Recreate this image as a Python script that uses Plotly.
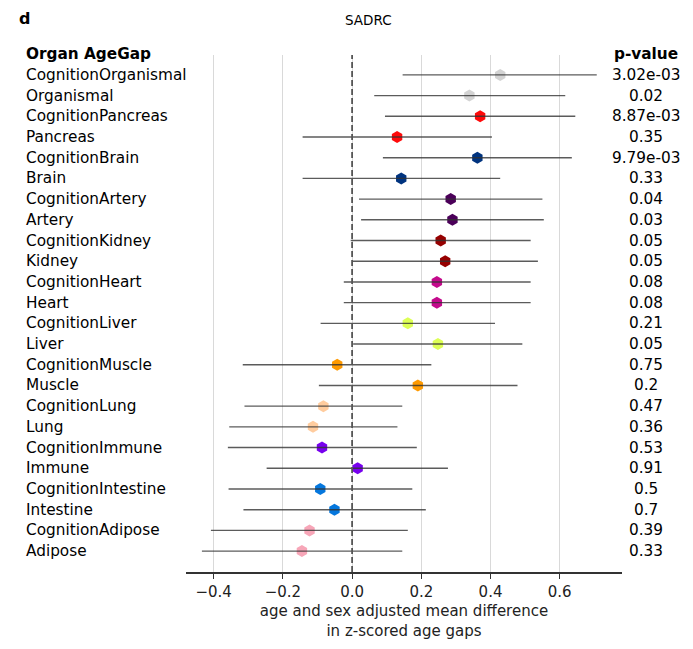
import plotly.graph_objects as go

organs = ["CognitionOrganismal", "Organismal", "CognitionPancreas", "Pancreas",
          "CognitionBrain", "Brain", "CognitionArtery", "Artery",
          "CognitionKidney", "Kidney", "CognitionHeart", "Heart",
          "CognitionLiver", "Liver", "CognitionMuscle", "Muscle",
          "CognitionLung", "Lung", "CognitionImmune", "Immune",
          "CognitionIntestine", "Intestine", "CognitionAdipose", "Adipose"]
means = [0.428, 0.339, 0.370, 0.130, 0.362, 0.142, 0.285, 0.290, 0.256, 0.269,
         0.245, 0.245, 0.161, 0.248, -0.043, 0.190, -0.083, -0.113, -0.087, 0.016,
         -0.092, -0.051, -0.123, -0.145]
ci_low = [0.146, 0.064, 0.095, -0.143, 0.089, -0.143, 0.020, 0.026, -0.004, 0.001,
          -0.024, -0.024, -0.091, 0.003, -0.316, -0.096, -0.311, -0.355, -0.359, -0.247,
          -0.357, -0.314, -0.408, -0.434]
ci_high = [0.707, 0.616, 0.645, 0.404, 0.635, 0.428, 0.550, 0.554, 0.516, 0.537,
           0.516, 0.516, 0.413, 0.492, 0.229, 0.478, 0.145, 0.131, 0.187, 0.277,
           0.174, 0.213, 0.161, 0.145]
pvalues = ["3.02e-03", "0.02", "8.87e-03", "0.35", "9.79e-03", "0.33", "0.04", "0.03",
           "0.05", "0.05", "0.08", "0.08", "0.21", "0.05", "0.75", "0.2",
           "0.47", "0.36", "0.53", "0.91", "0.5", "0.7", "0.39", "0.33"]
colors = ["#d3d3d3", "#d3d3d3", "#ff0a0a", "#ff0a0a", "#00337f", "#00337f",
          "#4b0059", "#4b0059", "#960000", "#960000", "#c40a8c", "#c40a8c",
          "#ddff55", "#ddff55", "#ff9a00", "#ff9a00", "#ffcc9e", "#ffcc9e",
          "#7700ee", "#7700ee", "#0577dd", "#0577dd", "#f7a6b8", "#f7a6b8"]
xtick_vals = [-0.4, -0.2, 0.0, 0.2, 0.4, 0.6]
xtick_text = ["\u22120.4", "\u22120.2", "0.0", "0.2", "0.4", "0.6"]

FONT = "DejaVu Sans"
OFF = 8  # default page body margin
W, H = 693 - OFF, 649 - OFF
# target page-pixel positions of the plot area
PL, PR, PT, PB = 186, 622, 55, 574
L, T = PL - OFF, PT - OFF
R, B = W - (PR - OFF), H - (PB - OFF)
PW = PR - PL
PH = PB - PT

def px_x(px):  # page px -> paper x
    return (px - PL) / PW

def px_y(py):  # page px -> paper y
    return 1 - (py - PT) / PH

fig = go.Figure()

fig.add_trace(go.Scatter(
    x=means, y=organs, mode="markers",
    marker=dict(symbol="hexagon", size=12, color=colors, line=dict(width=0)),
    showlegend=False, hoverinfo="skip"))

fig.add_trace(go.Scatter(
    x=means, y=organs, mode="markers",
    marker=dict(size=1, opacity=0),
    error_x=dict(type="data", symmetric=False,
                 array=[h - m for h, m in zip(ci_high, means)],
                 arrayminus=[m - l for m, l in zip(means, ci_low)],
                 width=0, thickness=1.4, color="rgba(50,50,50,0.8)"),
    showlegend=False, hoverinfo="skip"))

fig.add_shape(type="line", x0=0, x1=0, xref="x", y0=0, y1=1, yref="paper",
              line=dict(color="#555555", width=1.8, dash="6px,3px"), layer="above")

lab_font = dict(family=FONT, size=15.3, color="#000000")
annotations = []
for i, (name, p) in enumerate(zip(organs, pvalues)):
    annotations.append(dict(x=px_x(24), xref="paper", y=i, yref="y",
                            text=name, showarrow=False, xanchor="left", yanchor="middle",
                            font=lab_font))
    annotations.append(dict(x=px_x(646), xref="paper", y=i, yref="y",
                            text=p, showarrow=False, xanchor="center", yanchor="middle",
                            font=lab_font))
annotations.append(dict(x=px_x(24), xref="paper", y=px_y(54), yref="paper",
                        text="<b>Organ AgeGap</b>", showarrow=False, xanchor="left",
                        yanchor="middle", font=lab_font))
annotations.append(dict(x=px_x(646), xref="paper", y=px_y(54), yref="paper",
                        text="<b>p-value</b>", showarrow=False, xanchor="center",
                        yanchor="middle", font=lab_font))
annotations.append(dict(x=px_x(17), xref="paper", y=px_y(18.5), yref="paper",
                        text="<b>d</b>", showarrow=False, xanchor="left", yanchor="middle",
                        font=dict(family=FONT, size=16, color="#000000")))
annotations.append(dict(x=px_x(368), xref="paper", y=px_y(20), yref="paper",
                        text="SADRC", showarrow=False, xanchor="center", yanchor="middle",
                        font=dict(family=FONT, size=13.5, color="#000000")))

fig.update_layout(
    width=W, height=H,
    margin=dict(l=L, r=R, t=T, b=B, pad=0),
    plot_bgcolor="white", paper_bgcolor="white",
    font=dict(family=FONT, size=15, color="#000000"),
    annotations=annotations,
    xaxis=dict(range=[-0.48, 0.78], tickvals=xtick_vals, ticktext=xtick_text,
               showgrid=True, gridcolor="#d9d9d9", gridwidth=1, zeroline=False,
               showline=True, linecolor="#333333", linewidth=1.6,
               ticks="outside", ticklen=5, tickwidth=1.2, tickcolor="#333333",
               tickfont=dict(family=FONT, size=15, color="#222222"),
               title=dict(text="age and sex adjusted mean difference<br>in z-scored age gaps",
                          font=dict(family=FONT, size=15, color="#222222"), standoff=6)),
    yaxis=dict(type="category", categoryorder="array", categoryarray=organs,
               range=[24.01, -0.96], showticklabels=False, showgrid=False,
               zeroline=False, showline=False, ticks=""),
)

fig.write_html("out.html")
